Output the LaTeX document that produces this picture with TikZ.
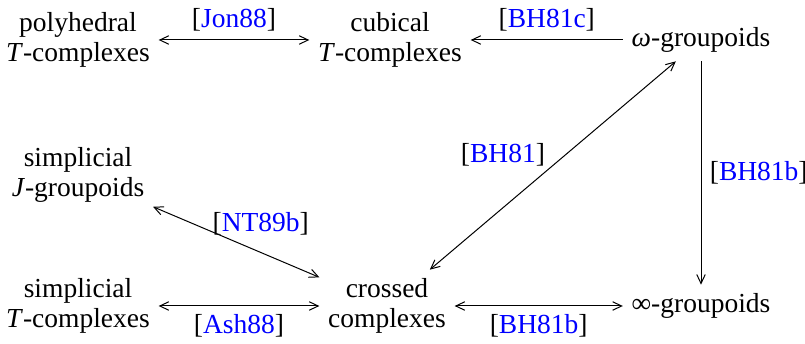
\documentclass[tikz,border=0pt]{standalone}
\usepackage{fontspec}
\setmainfont{Liberation Serif}
\usepackage{xcolor}
\usetikzlibrary{arrows.meta}

\newcommand{\refl}[1]{[\textcolor{blue}{#1}]}

\begin{document}
\begin{tikzpicture}[x=0.4pt,y=0.4pt, >={Straight Barb[length=3.6pt,width=3.4pt]},
    every node/.style={font=\fontsize{11}{12}\selectfont, align=center}]
  \useasboundingbox (0,0) rectangle (805,344);

  \node (poly) at (78,304) {polyhedral\\\textit{T}\/-complexes};
  \node (cub) at (390,304) {cubical\\\textit{T}\/-complexes};
  \node (omega) at (701,304) {\textit{ω}-groupoids};
  \node (sJ) at (78,169) {simplicial\\\textit{J}\/-groupoids};
  \node (sT) at (78,38) {simplicial\\\textit{T}\/-complexes};
  \node (cc) at (387,38) {crossed\\complexes};
  \node (infty) at (701,38) {∞-groupoids};

  \draw[<->] (poly) -- (cub) node[midway,above] {\refl{Jon88}};
  \draw[->] (omega) -- (cub) node[midway,above] {\refl{BH81c}};
  \draw[<->] (cc) -- (omega) node[pos=0.48,above left,inner sep=1pt] {\refl{BH81}};
  \draw[->] (omega) -- (infty) node[midway,right] {\refl{BH81b}};
  \draw[<->] (sJ) -- (cc) node[pos=0.34,anchor=south west,inner sep=1pt,yshift=-3] {\refl{NT89b}};
  \draw[<->] (sT) -- (cc) node[midway,below] {\refl{Ash88}};
  \draw[<->] (cc) -- (infty) node[midway,below] {\refl{BH81b}};
\end{tikzpicture}
\end{document}
